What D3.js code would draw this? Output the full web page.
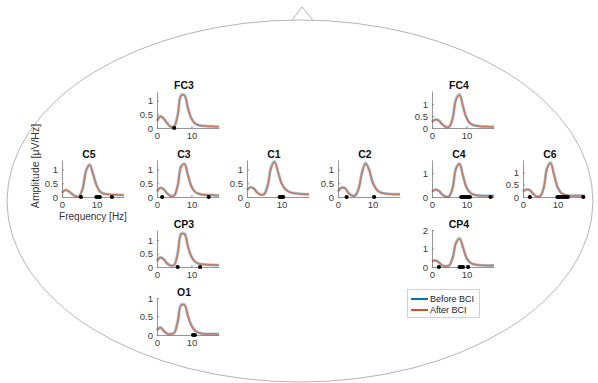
<!DOCTYPE html>
<html><head><meta charset="utf-8">
<script src="https://cdn.jsdelivr.net/npm/d3@7"></script>
<style>
body{margin:0;background:#fff}
svg{display:block}
text{font-family:"Liberation Sans",Arial,Helvetica,sans-serif}
</style></head>
<body><svg id="c" width="598" height="383"></svg>
<script>
// ---- data ----
const freqs = [0,1,2,3,4,5,6,7,8,9,10,11,12,13,14,15,16,17,18];
const channels = ["FC3","FC4","C5","C3","C1","C2","C4","C6","CP3","CP4","O1"];
const xTicks = [0, 10];
const seriesNames = ["Before BCI", "After BCI"];

const beforeFC3 = [0.26,0.43,0.34,0.17,0.05,0.07,0.47,1.20,1.20,0.72,0.35,0.18,0.11,0.08,0.07,0.06,0.06,0.05,0.05];
const afterFC3  = [0.25,0.42,0.33,0.16,0.04,0.06,0.45,1.18,1.18,0.70,0.34,0.17,0.10,0.08,0.07,0.06,0.06,0.05,0.05];
const beforeFC4 = [0.26,0.36,0.31,0.15,0.05,0.06,0.42,1.22,1.40,0.92,0.43,0.21,0.12,0.09,0.07,0.06,0.06,0.05,0.05];
const afterFC4  = [0.25,0.35,0.30,0.14,0.04,0.05,0.40,1.20,1.38,0.90,0.42,0.20,0.12,0.09,0.07,0.06,0.06,0.05,0.05];
const beforeC5  = [0.16,0.26,0.21,0.11,0.03,0.04,0.32,0.98,1.19,0.86,0.44,0.21,0.13,0.10,0.09,0.08,0.08,0.07,0.07];
const afterC5   = [0.15,0.25,0.20,0.10,0.02,0.03,0.30,0.95,1.17,0.85,0.42,0.20,0.12,0.10,0.09,0.08,0.08,0.07,0.07];
const beforeC3  = [0.21,0.34,0.28,0.13,0.04,0.06,0.42,1.12,1.22,0.80,0.39,0.20,0.12,0.09,0.08,0.07,0.07,0.06,0.06];
const afterC3   = [0.20,0.33,0.27,0.12,0.03,0.05,0.40,1.10,1.20,0.78,0.38,0.19,0.12,0.09,0.08,0.07,0.07,0.06,0.06];
const beforeC1  = [0.26,0.36,0.31,0.16,0.09,0.11,0.43,1.10,1.30,0.93,0.52,0.31,0.21,0.16,0.14,0.12,0.11,0.10,0.10];
const afterC1   = [0.25,0.35,0.30,0.15,0.08,0.10,0.40,1.05,1.27,0.90,0.50,0.30,0.20,0.15,0.13,0.12,0.11,0.10,0.10];
const beforeC2  = [0.21,0.34,0.33,0.16,0.06,0.06,0.32,0.92,1.24,1.02,0.56,0.31,0.19,0.14,0.12,0.11,0.10,0.10,0.10];
const afterC2   = [0.20,0.33,0.32,0.15,0.05,0.05,0.30,0.90,1.22,1.00,0.55,0.30,0.18,0.14,0.12,0.11,0.10,0.10,0.10];
const beforeC4  = [0.23,0.31,0.26,0.11,0.02,0.04,0.40,1.22,1.40,0.90,0.41,0.19,0.11,0.07,0.06,0.05,0.05,0.05,0.05];
const afterC4   = [0.22,0.30,0.25,0.10,0.01,0.03,0.38,1.20,1.38,0.88,0.40,0.18,0.10,0.07,0.06,0.05,0.05,0.05,0.05];
const beforeC6  = [0.23,0.31,0.28,0.13,0.03,0.04,0.38,1.18,1.40,0.93,0.42,0.18,0.10,0.06,0.05,0.05,0.05,0.05,0.05];
const afterC6   = [0.22,0.30,0.27,0.12,0.02,0.03,0.35,1.15,1.37,0.90,0.40,0.17,0.09,0.06,0.05,0.05,0.05,0.05,0.05];
const beforeCP3 = [0.23,0.36,0.29,0.13,0.06,0.08,0.52,1.24,1.24,0.77,0.39,0.21,0.13,0.10,0.09,0.08,0.08,0.07,0.07];
const afterCP3  = [0.22,0.35,0.28,0.12,0.05,0.07,0.50,1.22,1.22,0.75,0.38,0.20,0.13,0.10,0.09,0.08,0.08,0.07,0.07];
const beforeCP4 = [0.31,0.36,0.26,0.09,0.05,0.09,0.52,1.33,1.55,1.07,0.51,0.26,0.15,0.12,0.10,0.09,0.08,0.08,0.08];
const afterCP4  = [0.30,0.35,0.25,0.08,0.04,0.08,0.50,1.30,1.52,1.05,0.50,0.25,0.15,0.12,0.10,0.09,0.08,0.08,0.08];
const beforeO1  = [0.13,0.21,0.11,0.04,0.03,0.06,0.37,0.82,0.82,0.52,0.26,0.13,0.07,0.04,0.03,0.03,0.03,0.03,0.03];
const afterO1   = [0.12,0.20,0.10,0.03,0.02,0.05,0.35,0.80,0.80,0.50,0.25,0.12,0.06,0.04,0.03,0.03,0.03,0.03,0.03];

// frequencies marked as significant (black dots on the x axis)
const sigFC3 = [5];
const sigFC4 = [];
const sigC5  = [5.5, 10, 10.5, 11, 14.5];
const sigC3  = [1.5, 15];
const sigC1  = [9.5, 10, 10.5];
const sigC2  = [2.5, 10.5];
const sigC4  = [8.5, 9, 9.5, 10, 10.5, 11, 17];
const sigC6  = [2, 10, 10.5, 11, 11.5, 12, 12.5, 13, 17.5];
const sigCP3 = [6, 12.5];
const sigCP4 = [2, 8, 8.5, 9, 10.5];
const sigO1  = [10.5, 11];

// y-axis limits and ticks per channel
const yMaxes = {FC3:1.35, FC4:1.55, C5:1.35, C3:1.35, C1:1.35, C2:1.35, C4:1.55, C6:1.5, CP3:1.38, CP4:2, O1:1.0};
const yTickSets = {FC3:[0,0.5,1], FC4:[0,0.5,1], C5:[0,0.5,1], C3:[0,0.5,1], C1:[0,0.5,1], C2:[0,0.5,1],
                   C4:[0,1], C6:[0,0.5,1], CP3:[0,0.5,1], CP4:[0,1,2], O1:[0,0.5,1]};

const dataMap = {
  FC3:[beforeFC3,afterFC3,sigFC3], FC4:[beforeFC4,afterFC4,sigFC4], C5:[beforeC5,afterC5,sigC5],
  C3:[beforeC3,afterC3,sigC3], C1:[beforeC1,afterC1,sigC1], C2:[beforeC2,afterC2,sigC2],
  C4:[beforeC4,afterC4,sigC4], C6:[beforeC6,afterC6,sigC6], CP3:[beforeCP3,afterCP3,sigCP3],
  CP4:[beforeCP4,afterCP4,sigCP4], O1:[beforeO1,afterO1,sigO1]
};

// ---- layout ----
const layout = {
  FC3:[157,128], FC4:[432,128],
  C5:[62,197], C3:[157,197], C1:[247,197], C2:[338,197], C4:[432,197], C6:[523,197],
  CP3:[157,267], CP4:[432,267], O1:[157,335]
};
const AW = 62, AH = 37;
const colBefore = "#0072BD", colAfter = "#D95319";

const svg = d3.select("#c");

// head outline
svg.append("ellipse").attr("cx",300).attr("cy",201).attr("rx",293).attr("ry",181)
  .attr("fill","none").attr("stroke","#b5b5b5").attr("stroke-width",1);
svg.append("path").attr("d","M292,20.3 L302,7 L313,20.3")
  .attr("fill","none").attr("stroke","#b5b5b5").attr("stroke-width",1);

channels.forEach(ch => {
  const [x0, b] = layout[ch];
  const [before, after, sig] = dataMap[ch];
  const x = d3.scaleLinear().domain([0,18]).range([x0, x0+AW]);
  const y = d3.scaleLinear().domain([0, yMaxes[ch]]).range([b, b-AH]);
  const g = svg.append("g");

  const xa = g.append("g").attr("transform",`translate(0,${b})`)
    .call(d3.axisBottom(x).tickValues(xTicks).tickSize(-2).tickSizeOuter(0).tickPadding(4).tickFormat(d3.format("d")));
  const ya = g.append("g").attr("transform",`translate(${x0},0)`)
    .call(d3.axisLeft(y).tickValues(yTickSets[ch]).tickSize(-2).tickSizeOuter(0).tickPadding(4).tickFormat(d=>String(d)));
  [xa, ya].forEach(a => {
    a.select(".domain").attr("stroke","#8a8a8a").attr("stroke-width",0.9);
    a.selectAll(".tick line").attr("stroke","#8a8a8a");
    a.selectAll("text").attr("fill","#3a3a3a").attr("font-size","9.5px");
  });

  const line = d3.line().x((d,i)=>x(freqs[i])).y(d=>y(d)).curve(d3.curveCatmullRom.alpha(0.5));
  g.append("path").datum(before).attr("d",line).attr("fill","none")
    .attr("stroke",colBefore).attr("stroke-width",3).attr("stroke-opacity",0.35);
  g.append("path").datum(after).attr("d",line).attr("fill","none")
    .attr("stroke",colAfter).attr("stroke-width",1.8).attr("stroke-opacity",0.65);

  g.selectAll("circle.sig").data(sig).enter().append("circle")
    .attr("cx",d=>x(d)).attr("cy",b).attr("r",2.1).attr("fill","#000");

  g.append("text").attr("x",x0+27).attr("y",b-39).attr("text-anchor","middle")
    .attr("font-size","10.5px").attr("font-weight","bold").attr("fill","#111").text(ch);
});

// axis labels (on C5)
svg.append("text").attr("x",93).attr("y",220).attr("text-anchor","middle")
  .attr("font-size","10px").attr("fill","#333").text("Frequency [Hz]");
svg.append("text").attr("transform","translate(39,166) rotate(-90)").attr("text-anchor","middle")
  .attr("font-size","10.5px").attr("fill","#333").text("Amplitude [μV/Hz]");

// legend
const lg = svg.append("g");
lg.append("rect").attr("x",407.5).attr("y",289.5).attr("width",72).attr("height",28)
  .attr("fill","#fff").attr("stroke","#c8c8c8").attr("stroke-width",0.8);
[colBefore, colAfter].forEach((c,i) => {
  const yy = 299 + i*11;
  lg.append("line").attr("x1",411).attr("x2",428).attr("y1",yy).attr("y2",yy)
    .attr("stroke",c).attr("stroke-width",2);
  lg.append("text").attr("x",430).attr("y",yy+3.2).attr("font-size","9px").attr("fill","#222").text(seriesNames[i]);
});
</script></body></html>
